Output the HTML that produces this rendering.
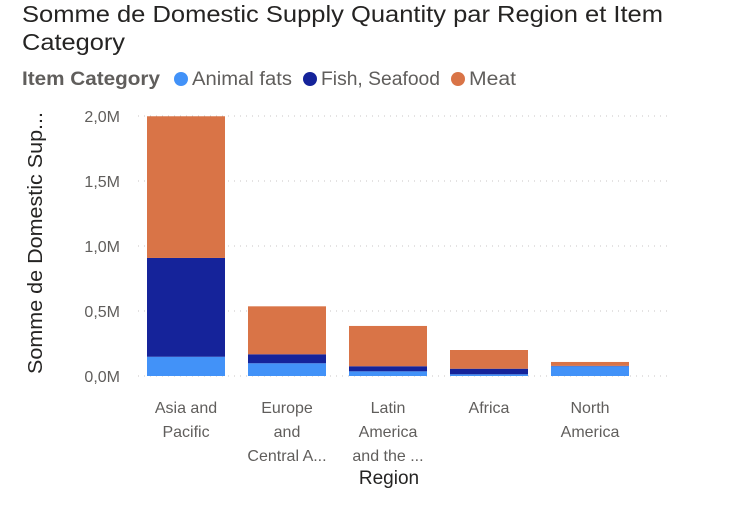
<!DOCTYPE html>
<html><head><meta charset="utf-8"><style>
body{margin:0;background:#fff;font-family:"Liberation Sans",sans-serif;}
</style></head><body>
<svg width="742" height="506" xmlns="http://www.w3.org/2000/svg">
<text x="22" y="22" font-size="23" fill="#252423" textLength="641" lengthAdjust="spacingAndGlyphs">Somme de Domestic Supply Quantity par Region et Item</text>
<text x="22" y="50" font-size="23" fill="#252423" textLength="103" lengthAdjust="spacingAndGlyphs">Category</text>
<g font-size="19">
<text x="22" y="85" font-weight="bold" fill="#605e5c" textLength="138" lengthAdjust="spacingAndGlyphs">Item Category</text>
<circle cx="181" cy="79" r="7" fill="#4292f8"/>
<text x="192" y="85" fill="#605e5c" textLength="100" lengthAdjust="spacingAndGlyphs">Animal fats</text>
<circle cx="310" cy="79" r="7" fill="#15239a"/>
<text x="321" y="85" fill="#605e5c" textLength="119" lengthAdjust="spacingAndGlyphs">Fish, Seafood</text>
<circle cx="458" cy="79" r="7" fill="#d97447"/>
<text x="469" y="85" fill="#605e5c" textLength="47" lengthAdjust="spacingAndGlyphs">Meat</text>
</g>
<text transform="translate(42,243) rotate(-90)" text-anchor="middle" font-size="20" fill="#252423" textLength="262" lengthAdjust="spacingAndGlyphs">Somme de Domestic Sup...</text>
<text x="389" y="484" text-anchor="middle" font-size="19" fill="#252423">Region</text>
<g id="grid"></g><g id="ylab"></g><g id="bars"></g><g id="xlab"></g>
</svg>
<script>
const categories=[["Asia and","Pacific"],["Europe","and","Central A..."],["Latin","America","and the ..."],["Africa"],["North","America"]];
const animalFats=[0.148,0.098,0.036,0.013,0.075];
const fishSeafood=[0.76,0.069,0.039,0.043,0.003];
const meat=[1.09,0.369,0.31,0.144,0.03];
const ticks=[0,0.5,1,1.5,2];
const tickLabels=["0,0M","0,5M","1,0M","1,5M","2,0M"];
const NS="http://www.w3.org/2000/svg";
const y=v=>376-v*130;
const band=101,x0=135.5,bw=78;
const xc=i=>x0+band*i+band/2;
function mk(t,a,p){const e=document.createElementNS(NS,t);for(const k in a)e.setAttribute(k,a[k]);p.appendChild(e);return e;}
const g=document.getElementById('grid'),yl=document.getElementById('ylab'),b=document.getElementById('bars'),xl=document.getElementById('xlab');
ticks.forEach((t,i)=>{
const l=mk('line',{x1:138,x2:668,y1:y(t),y2:y(t),stroke:'#c8c6c4','stroke-dasharray':'1,5'},g);


const tx=mk('text',{x:120,y:y(t)+6,'text-anchor':'end','font-size':'16',fill:'#605e5c'},yl);
tx.textContent=tickLabels[i];


});
const series=[[animalFats,'#4292f8','animal-fats'],[fishSeafood,'#15239a','fish'],[meat,'#d97447','meat']];
categories.forEach((c,i)=>{
let base=0;
series.forEach(([arr,col,nm])=>{
const v=arr[i];
const r=mk('rect',{x:xc(i)-bw/2,y:y(base+v),width:bw,height:y(base)-y(base+v),fill:col},b);


base+=v;
});
c.forEach((ln,j)=>{
const t=mk('text',{x:xc(i),y:413+j*24,'text-anchor':'middle','font-size':'16',fill:'#605e5c'},xl);
t.textContent=ln;


});
});
</script>
</body></html>
